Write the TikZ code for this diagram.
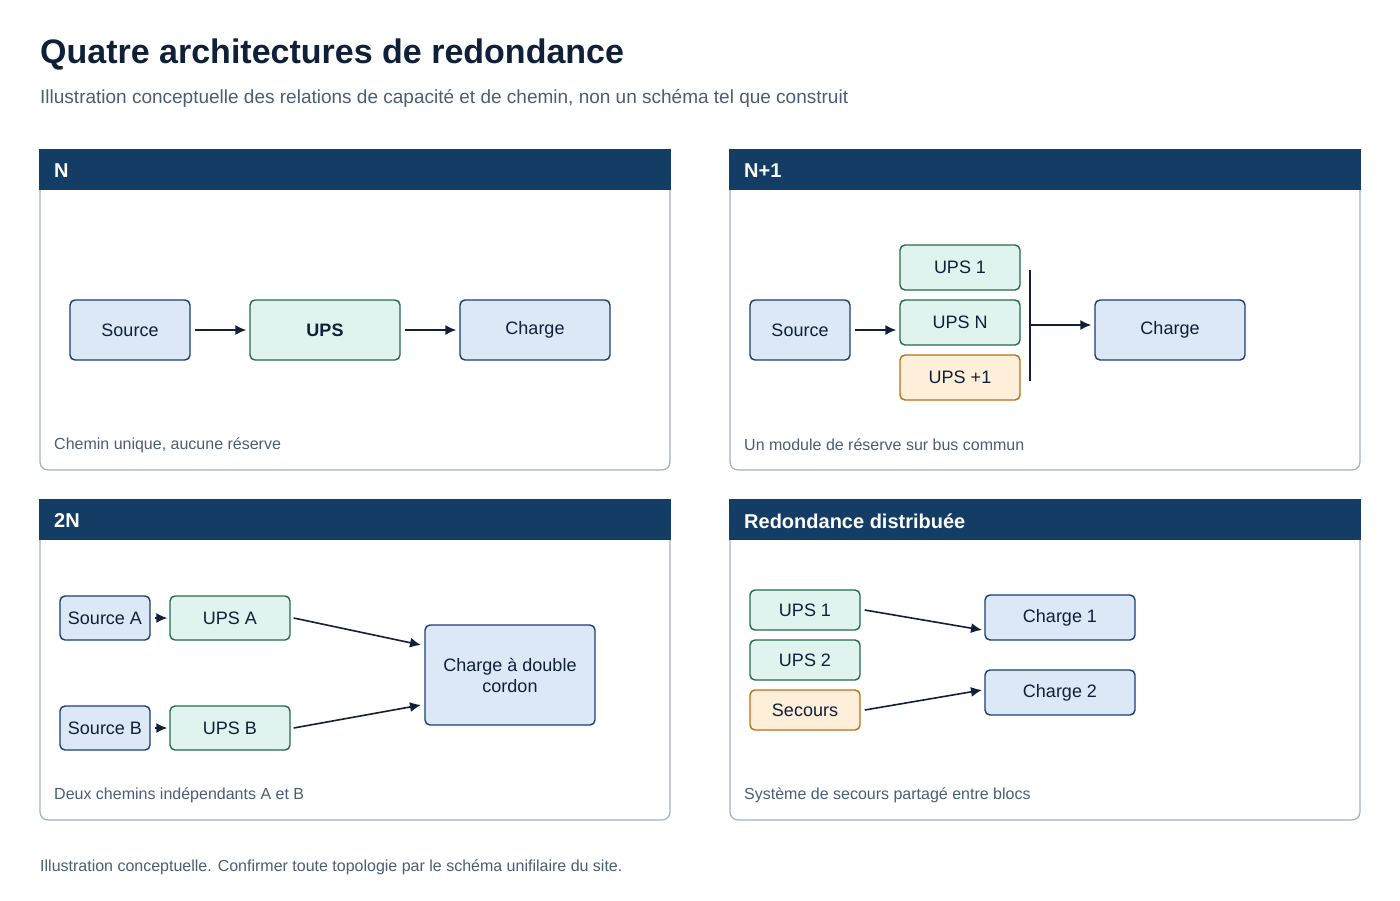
\documentclass[tikz,border=0pt]{standalone}
\usepackage{fontspec}
\setmainfont{Liberation Sans}
\usetikzlibrary{arrows.meta}
\definecolor{hdr}{HTML}{143D66}
\definecolor{ink}{HTML}{0F2038}
\definecolor{sub}{HTML}{4A5D75}
\definecolor{pbord}{HTML}{9CB0C6}
\definecolor{bfill}{HTML}{DCE8F5}
\definecolor{bdraw}{HTML}{183F73}
\definecolor{gfill}{HTML}{E0F3EE}
\definecolor{gdraw}{HTML}{236B4C}
\definecolor{ofill}{HTML}{FDEFD9}
\definecolor{odraw}{HTML}{B86F14}
\tikzset{
 every node/.style={font=\fontsize{18}{21}\selectfont, text=ink},
 panel/.style={draw=pbord, line width=1.2pt, rounded corners=8pt},
 hbar/.style={fill=hdr},
 htext/.style={font=\fontsize{20}{24}\selectfont\bfseries, text=white, anchor=west, inner sep=0pt},
 captxt/.style={font=\fontsize{16}{19}\selectfont, text=sub, anchor=west, inner sep=0pt},
 bbox/.style={draw=bdraw, fill=bfill, line width=1.4pt, rounded corners=5pt, align=center},
 gbox/.style={draw=gdraw, fill=gfill, line width=1.4pt, rounded corners=5pt},
 obox/.style={draw=odraw, fill=ofill, line width=1.4pt, rounded corners=5pt},
 arr/.style={draw=ink, line width=1.6pt, -{Latex[length=11pt,width=10pt]}},
}
\newcommand{\bx}[6]{\node[#1, minimum width=#4pt, minimum height=#5pt, inner sep=0pt] (#2) at (#3) {#6};}
\begin{document}
\begin{tikzpicture}[x=1pt,y=-1pt]
\useasboundingbox (0,0) rectangle (1400,900);
\node[anchor=west, inner sep=0pt, font=\fontsize{34}{38}\selectfont\bfseries] (title) at (40,55) {Quatre architectures de redondance};
\node[anchor=west, inner sep=0pt, font=\fontsize{19}{22}\selectfont, text=sub] (subt) at (40,98) {Illustration conceptuelle des relations de capacité et de chemin, non un schéma tel que construit};
% panels
\foreach \x/\y/\t/\c [count=\i] in {40/150/N/{Chemin unique, aucune réserve},730/150/N+1/{Un module de réserve sur bus commun},40/500/2N/{Deux chemins indépendants A et B},730/500/Redondance distribuée/{Système de secours partagé entre blocs}}{
 \draw[panel] (\x,\y) rectangle ++(630,320);
 \fill[hbar] (\x-0.6,\y-0.6) rectangle ++(631.2,40.6);
 \node[htext] (h\i) at (\x+14,\y+21) {\t};
 \node[captxt] (c\i) at (\x+14,\y+295) {\c};
}
% N
\bx{bbox}{ns}{130,330}{120}{60}{Source}
\bx{gbox}{nu}{325,330}{150}{60}{\bfseries UPS}
\bx{bbox}{nc}{535,330}{150}{60}{Charge}
\draw[arr] ([xshift=4pt]ns.east) -- ([xshift=-3pt]nu.west);
\draw[arr] ([xshift=4pt]nu.east) -- ([xshift=-3pt]nc.west);
% N+1
\bx{bbox}{ps}{800,330}{100}{60}{Source}
\bx{gbox}{p1}{960,267.5}{120}{45}{UPS 1}
\bx{gbox}{pn}{960,322.5}{120}{45}{UPS N}
\bx{obox}{pp}{960,377.5}{120}{45}{UPS +1}
\bx{bbox}{pc}{1170,330}{150}{60}{Charge}
\coordinate (bt) at (1030,270); \coordinate (bb) at (1030,381); \coordinate (bm) at (1030,325);
\draw[ink, line width=2.5pt] (bt) -- (bb);
\draw[arr] ([xshift=4pt]ps.east) -- ([xshift=-3pt]ps.east -| pn.west);
\draw[arr] (bm) -- ([xshift=-3pt]bm -| pc.west);
% 2N
\bx{bbox}{sa}{105,618}{90}{44}{Source A}
\bx{gbox}{ua}{230,618}{120}{44}{UPS A}
\bx{bbox}{sb}{105,728}{90}{44}{Source B}
\bx{gbox}{ub}{230,728}{120}{44}{UPS B}
\bx{bbox}{dc}{510,675}{170}{100}{Charge à double\\cordon}
\draw[arr] ([xshift=4pt]sa.east) -- ([xshift=-2pt]ua.west);
\draw[arr] ([xshift=4pt]sb.east) -- ([xshift=-2pt]ub.west);
\coordinate (da) at (421,645); \coordinate (db) at (421,705);
\draw[arr] ([xshift=3pt]ua.east) -- (da);
\draw[arr] ([xshift=3pt]ub.east) -- (db);
% distributed
\bx{gbox}{d1}{805,610}{110}{40}{UPS 1}
\bx{gbox}{d2}{805,660}{110}{40}{UPS 2}
\bx{obox}{d3}{805,710}{110}{40}{Secours}
\bx{bbox}{k1}{1060,617.5}{150}{45}{Charge 1}
\bx{bbox}{k2}{1060,692.5}{150}{45}{Charge 2}
\coordinate (ka) at (982,630); \coordinate (kb) at (982,690);
\draw[arr] ([xshift=4pt]d1.east) -- (ka);
\draw[arr] ([xshift=4pt]d3.east) -- (kb);
\node[anchor=west, inner sep=0pt, font=\fontsize{16}{19}\selectfont, text=sub] (foot) at (40,867) {Illustration conceptuelle. Confirmer toute topologie par le schéma unifilaire du site.};
\end{tikzpicture}
\end{document}
